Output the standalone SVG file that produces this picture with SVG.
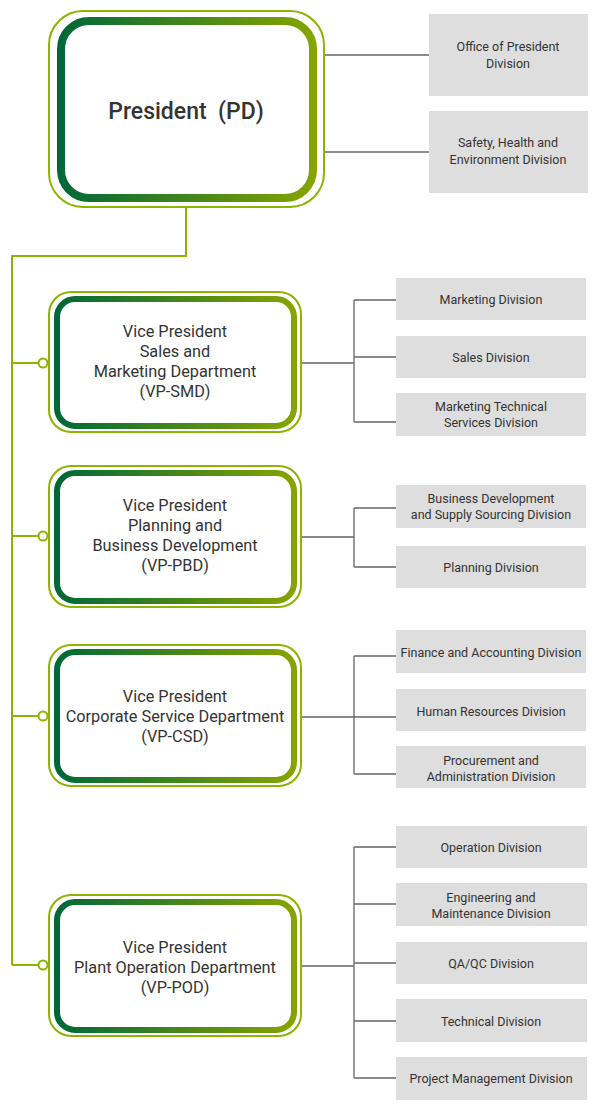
<svg xmlns="http://www.w3.org/2000/svg" width="600" height="1111" viewBox="0 0 600 1111">
<defs>
<linearGradient id="g" x1="0" y1="0" x2="1" y2="0">
<stop offset="0" stop-color="#006838"/>
<stop offset="1" stop-color="#85a400"/>
</linearGradient>
</defs>
<style>
.outer{fill:#fff;stroke:#8cb400;stroke-width:2}
.inner{fill:#fff;stroke:url(#g);stroke-width:6}
.pinner{fill:#fff;stroke:url(#g);stroke-width:8}
.div{fill:#dedede}
.t{font-family:Roboto,"Liberation Sans",sans-serif;fill:#333;text-anchor:middle}
.vp{font-size:16.3px}
.dt{font-size:12.5px}
.gl{fill:none;stroke:#8cb400;stroke-width:2}
.cl{fill:none;stroke:#666;stroke-width:1.3}
.dot{fill:#fff;stroke:#8cb400;stroke-width:2}
</style>
<g id="connectors">
<polyline class="gl" points="186,208 186,256 12,256 12,965"/>
<line class="gl" x1="12" y1="363" x2="38" y2="363"/>
<line class="gl" x1="12" y1="536" x2="38" y2="536"/>
<line class="gl" x1="12" y1="716" x2="38" y2="716"/>
<line class="gl" x1="12" y1="965" x2="38" y2="965"/>
<circle class="dot" cx="43" cy="363" r="4.5"/>
<circle class="dot" cx="43" cy="536" r="4.5"/>
<circle class="dot" cx="43" cy="716" r="4.5"/>
<circle class="dot" cx="43" cy="965" r="4.5"/>
<line class="cl" x1="325" y1="55" x2="429" y2="55"/>
<line class="cl" x1="325" y1="152" x2="429" y2="152"/>
<path class="cl" d="M302,363H354M354,300V422M354,300H396M354,357H396M354,422H396"/>
<path class="cl" d="M302,537H354M354,508V567M354,508H396M354,567H396"/>
<path class="cl" d="M302,717H354M354,656V774M354,656H396M354,717H396M354,774H396"/>
<path class="cl" d="M302,966H354M354,847V1078M354,847H396M354,904H396M354,963H396M354,1021H396M354,1078H396"/>
</g>
<g id="president">
<rect class="outer" x="49" y="11" width="275" height="196" rx="34"/>
<rect class="pinner" x="61" y="21" width="252" height="177" rx="28"/>
<text class="t" x="186" y="119" font-size="23" font-weight="500" xml:space="preserve" style="white-space:pre">President  (PD)</text>
</g>
<g id="office-president">
<rect class="div" x="429" y="14" width="159" height="82"/>
<text class="t dt" x="508" y="51">Office of President</text>
<text class="t dt" x="508" y="68">Division</text>
</g>
<g id="she">
<rect class="div" x="429" y="111" width="159" height="82"/>
<text class="t dt" x="508" y="147">Safety, Health and</text>
<text class="t dt" x="508" y="164">Environment Division</text>
</g>
<g id="vp-smd">
<rect class="outer" x="49" y="292" width="252" height="140" rx="22"/>
<rect class="inner" x="57" y="299" width="237" height="127" rx="18"/>
<text class="t vp" x="175" y="337">Vice President</text>
<text class="t vp" x="175" y="357">Sales and</text>
<text class="t vp" x="175" y="377">Marketing Department</text>
<text class="t vp" x="175" y="397">(VP-SMD)</text>
</g>
<g id="marketing"><rect class="div" x="396" y="278" width="190" height="42"/><text class="t dt" x="491" y="304">Marketing Division</text></g>
<g id="sales"><rect class="div" x="396" y="336" width="190" height="42"/><text class="t dt" x="491" y="362">Sales Division</text></g>
<g id="mts"><rect class="div" x="396" y="393" width="190" height="43"/><text class="t dt" x="491" y="411">Marketing Technical</text><text class="t dt" x="491" y="427">Services Division</text></g>
<g id="vp-pbd">
<rect class="outer" x="49" y="466" width="252" height="141" rx="22"/>
<rect class="inner" x="57" y="473" width="237" height="128" rx="18"/>
<text class="t vp" x="175" y="511">Vice President</text>
<text class="t vp" x="175" y="531">Planning and</text>
<text class="t vp" x="175" y="551">Business Development</text>
<text class="t vp" x="175" y="571">(VP-PBD)</text>
</g>
<g id="bdss"><rect class="div" x="396" y="485" width="190" height="43"/><text class="t dt" x="491" y="503">Business Development</text><text class="t dt" x="491" y="519">and Supply Sourcing Division</text></g>
<g id="planning"><rect class="div" x="396" y="546" width="190" height="42"/><text class="t dt" x="491" y="572">Planning Division</text></g>
<g id="vp-csd">
<rect class="outer" x="49" y="645" width="252" height="141" rx="22"/>
<rect class="inner" x="57" y="652" width="237" height="128" rx="18"/>
<text class="t vp" x="175" y="702">Vice President</text>
<text class="t vp" x="175" y="722">Corporate Service Department</text>
<text class="t vp" x="175" y="742">(VP-CSD)</text>
</g>
<g id="finance"><rect class="div" x="396" y="630" width="190" height="43"/><text class="t dt" x="491" y="657">Finance and Accounting Division</text></g>
<g id="hr"><rect class="div" x="396" y="689" width="190" height="42"/><text class="t dt" x="491" y="716">Human Resources Division</text></g>
<g id="procurement"><rect class="div" x="396" y="746" width="190" height="42"/><text class="t dt" x="491" y="765">Procurement and</text><text class="t dt" x="491" y="781">Administration Division</text></g>
<g id="vp-pod">
<rect class="outer" x="49" y="895" width="252" height="141" rx="22"/>
<rect class="inner" x="57" y="902" width="237" height="128" rx="18"/>
<text class="t vp" x="175" y="953">Vice President</text>
<text class="t vp" x="175" y="973">Plant Operation Department</text>
<text class="t vp" x="175" y="993">(VP-POD)</text>
</g>
<g id="operation"><rect class="div" x="396" y="826" width="191" height="42"/><text class="t dt" x="491" y="852">Operation Division</text></g>
<g id="engineering"><rect class="div" x="396" y="883" width="191" height="43"/><text class="t dt" x="491" y="902">Engineering and</text><text class="t dt" x="491" y="918">Maintenance Division</text></g>
<g id="qaqc"><rect class="div" x="396" y="942" width="191" height="42"/><text class="t dt" x="491" y="968">QA/QC Division</text></g>
<g id="technical"><rect class="div" x="396" y="999" width="191" height="43"/><text class="t dt" x="491" y="1026">Technical Division</text></g>
<g id="pm"><rect class="div" x="396" y="1057" width="191" height="43"/><text class="t dt" x="491" y="1083">Project Management Division</text></g>
</svg>
